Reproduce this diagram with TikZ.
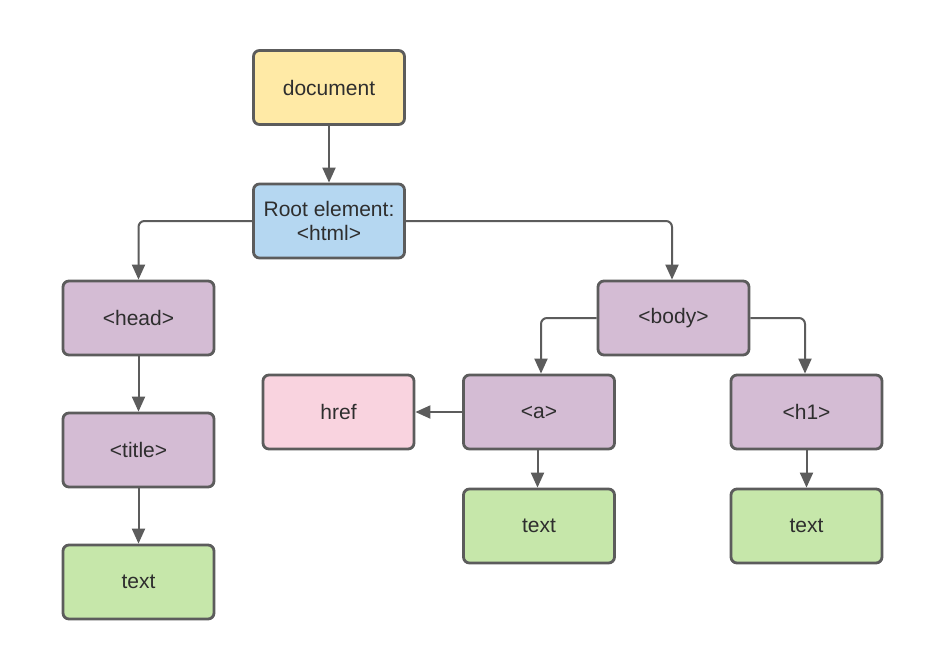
\documentclass[tikz,border=0pt]{standalone}
\usepackage{fontspec}
\setmainfont{Liberation Sans}
\usetikzlibrary{arrows.meta}
\definecolor{edgegray}{HTML}{5C5C5C}
\definecolor{cyellow}{HTML}{FFEAA6}
\definecolor{cblue}{HTML}{B5D7F1}
\definecolor{cpurple}{HTML}{D4BCD4}
\definecolor{cpink}{HTML}{F9D3DF}
\definecolor{cgreen}{HTML}{C6E7AA}
\definecolor{textgray}{HTML}{2E2E2E}
\tikzset{
  box/.style={draw=edgegray, line width=2.8pt, rounded corners=6pt,
    minimum width=151pt, minimum height=74pt, inner sep=0pt,
    align=center, text=textgray, font=\fontsize{21}{25}\selectfont},
  conn/.style={draw=edgegray, line width=2pt, rounded corners=6pt,
    -{Triangle[length=15pt,width=13pt]}},
}
\begin{document}
\begin{tikzpicture}[x=1pt,y=-1pt]
\useasboundingbox[fill=white] (0,0) rectangle (945,670);
\node[box, fill=cyellow] (doc) at (329,87.5) {document};
\node[box, fill=cblue] (root) at (329,221) {Root element:\\[-1pt]<html>};
\node[box, fill=cpurple] (head) at (138.5,318) {<head>};
\node[box, fill=cpurple] (title) at (138.5,450) {<title>};
\node[box, fill=cgreen] (t1) at (138.5,582) {text};
\node[box, fill=cpurple] (body) at (673.5,318) {<body>};
\node[box, fill=cpink] (href) at (338.5,412) {href};
\node[box, fill=cpurple] (a) at (539,412) {<a>};
\node[box, fill=cpurple] (h1) at (806.5,412) {<h1>};
\node[box, fill=cgreen] (t2) at (539,526) {text};
\node[box, fill=cgreen] (t3) at (806.5,526) {text};

\draw[conn] (doc) -- (root);
\draw[conn] (root.west) -| (head.north);
\draw[conn] (root.east) -| ([xshift=-1.5pt]body.north);
\draw[conn] (body.west) -| ([xshift=2pt]a.north);
\draw[conn] (body.east) -| ([xshift=-1.5pt]h1.north);
\draw[conn] (head) -- (title);
\draw[conn] (title) -- (t1);
\draw[conn] (a) -- (href);
\draw[conn] ([xshift=-1.5pt]a.south) -- ([xshift=-1.5pt]t2.north);
\draw[conn] (h1) -- (t3);
\end{tikzpicture}
\end{document}
